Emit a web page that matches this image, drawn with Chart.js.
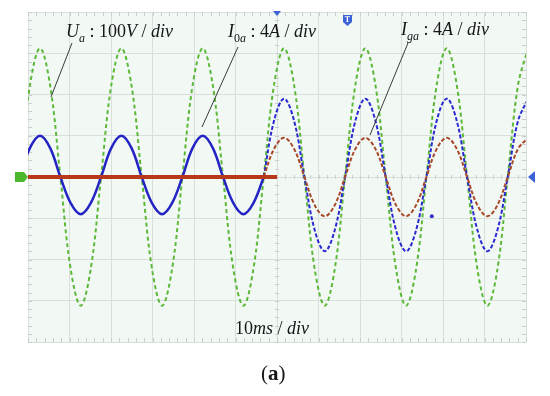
<!DOCTYPE html>
<html>
<head>
<meta charset="utf-8">
<script src="https://cdn.jsdelivr.net/npm/chart.js@4.4.0/dist/chart.umd.min.js"></script>
<style>
  html, body { margin: 0; padding: 0; background: #fff; }
  canvas { display: block; }
</style>
</head>
<body>
<canvas id="scope" width="550" height="396"></canvas>
<script>
// sample times (ms), 10ms/div, 12 div
const timeMs = [-2.0, 0.45, 2.9, 5.35, 7.8, 10.25, 12.7, 15.15, 17.6, 20.05, 22.5, 24.95, 27.4, 29.85, 32.3, 34.75,
  37.2, 39.65, 42.1, 44.55, 47.0, 49.45, 51.9, 54.35, 56.8, 59.25, 61.7, 64.15, 66.6, 69.05, 71.5, 73.95, 76.4,
  78.85, 81.3, 83.75, 86.2, 88.65, 91.1, 93.55, 96.0, 98.45, 100.9, 103.35, 105.8, 108.25, 110.7, 113.15, 115.6,
  118.05, 120.5];

// Ua, volts (100V/div)
const uaVolts = [0,
  221, 312, 221, 0, -221, -312, -221, 0,
  221, 312, 221, 0, -221, -312, -221, 0,
  221, 312, 221, 0, -221, -312, -221, 0,
  221, 312, 221, 0, -221, -312, -221, 0,
  221, 312, 221, 0, -221, -312, -221, 0,
  221, 312, 221, 0, -221, -312, -221, 0,
  221, 312];

// I0a, amps (4A/div) - before and after the step
const i0aBefore = [0,
  2.8, 4.0, 2.8, 0, -2.5, -3.6, -2.5, 0,
  2.8, 4.0, 2.8, 0, -2.5, -3.6, -2.5, 0,
  2.8, 4.0, 2.8, 0, -2.5, -3.6, -2.5, 0,
  null, null, null, null, null, null, null, null, null, null, null, null, null,
  null, null, null, null, null, null, null, null, null, null, null, null, null];
const i0aAfter = [null, null, null, null, null, null, null, null, null, null, null, null,
  null, null, null, null, null, null, null, null, null, null, null, null,
  0,
  5.4, 7.6, 5.4, 0, -5.1, -7.2, -5.1, 0,
  5.4, 7.6, 5.4, 0, -5.1, -7.2, -5.1, 0,
  5.4, 7.6, 5.4, 0, -5.1, -7.2, -5.1, 0,
  5.4, 7.6];

// Iga, amps (4A/div)
const igaFlatTime = [0, 60];
const igaFlatAmps = [0, 0];
const igaAfter = [null, null, null, null, null, null, null, null, null, null, null, null,
  null, null, null, null, null, null, null, null, null, null, null, null,
  0,
  2.7, 3.8, 2.7, 0, -2.7, -3.8, -2.7, 0,
  2.7, 3.8, 2.7, 0, -2.7, -3.8, -2.7, 0,
  2.7, 3.8, 2.7, 0, -2.7, -3.8, -2.7, 0,
  2.7, 3.8];

// stray dot on the blue channel
const strayTime = [97.3];
const strayAmps = [-3.8];

const toPoints = (times, values) => {
  let pts = [];
  times.forEach((t, i) => {
    if (values[i] !== null) pts.push({ x: t, y: values[i] });
  });
  return pts;
};

const SERIF = "'Liberation Serif', 'Times New Roman', serif";

// plot background + scope minor ticks
const scopeBack = {
  id: 'scopeBack',
  beforeDraw(chart) {
    const { ctx, chartArea: a } = chart;
    ctx.save();
    ctx.fillStyle = '#f2f9f5';
    ctx.fillRect(a.left, a.top, a.right - a.left, a.bottom - a.top);
    ctx.restore();
  },
  beforeDatasetsDraw(chart) {
    const { ctx, chartArea: a, scales } = chart;
    const x = scales.x, y = scales.y;
    const cx = x.getPixelForValue(60), cy = y.getPixelForValue(0);
    ctx.save();
    ctx.strokeStyle = '#c9d0cc';
    ctx.lineWidth = 1;
    ctx.beginPath();
    for (let t = 0; t <= 120; t += 2) {
      const px = Math.round(x.getPixelForValue(t)) + 0.5;
      ctx.moveTo(px, a.top); ctx.lineTo(px, a.top + 4);
      ctx.moveTo(px, a.bottom); ctx.lineTo(px, a.bottom - 4);
      ctx.moveTo(px, cy - 2); ctx.lineTo(px, cy + 2);
    }
    for (let v = -400; v <= 400; v += 20) {
      const py = Math.round(y.getPixelForValue(v)) + 0.5;
      ctx.moveTo(a.left, py); ctx.lineTo(a.left + 4, py);
      ctx.moveTo(a.right, py); ctx.lineTo(a.right - 4, py);
      ctx.moveTo(cx - 2, py); ctx.lineTo(cx + 2, py);
    }
    ctx.stroke();
    ctx.restore();
  }
};

// write a label made of pieces (italic, subscript ...)
const drawRuns = (ctx, x, y, runs) => {
  runs.forEach(([txt, font, dy]) => {
    ctx.font = font;
    ctx.fillText(txt, x, y + (dy || 0));
    x += ctx.measureText(txt).width;
  });
};

const scopeText = {
  id: 'scopeText',
  afterDraw(chart) {
    const ctx = chart.ctx;
    const it = 'italic 18px ' + SERIF, up = '18px ' + SERIF;
    const sIt = 'italic 12px ' + SERIF, sUp = '12px ' + SERIF;
    ctx.save();
    ctx.fillStyle = '#161616';
    ctx.textBaseline = 'alphabetic';
    ctx.textAlign = 'left';
    drawRuns(ctx, 66, 37, [['U', it], ['a', sIt, 5], [' : 100', up], ['V', it], [' / ', up], ['div', it]]);
    drawRuns(ctx, 228, 37, [['I', it], ['0', sUp, 5], ['a', sIt, 5], [' : 4', up], ['A', it], [' / ', up], ['div', it]]);
    drawRuns(ctx, 401, 35, [['I', it], ['ga', sIt, 5], [' : 4', up], ['A', it], [' / ', up], ['div', it]]);
    drawRuns(ctx, 235, 334, [['10', up], ['ms', it], [' / ', up], ['div', it]]);
    drawRuns(ctx, 261, 380, [['(', '21px ' + SERIF], ['a', 'bold 21px ' + SERIF], [')', '21px ' + SERIF]]);

    // leader lines
    ctx.strokeStyle = '#3a3a3a';
    ctx.lineWidth = 1;
    ctx.beginPath();
    ctx.moveTo(72, 43); ctx.lineTo(51, 97);
    ctx.moveTo(238, 47); ctx.lineTo(202, 127);
    ctx.moveTo(408, 43); ctx.lineTo(370, 135);
    ctx.stroke();

    // channel / trigger markers
    const cy = chart.scales.y.getPixelForValue(0);
    ctx.fillStyle = '#4cb82e';
    ctx.fillRect(15, cy - 5, 9, 10);
    ctx.beginPath();
    ctx.moveTo(24, cy - 5); ctx.lineTo(28, cy); ctx.lineTo(24, cy + 5);
    ctx.fill();

    ctx.fillStyle = '#3c62d6';
    const tx = chart.scales.x.getPixelForValue(60);
    ctx.beginPath();
    ctx.moveTo(tx - 4, 11); ctx.lineTo(tx + 4, 11); ctx.lineTo(tx, 16);
    ctx.fill();

    ctx.beginPath();
    ctx.moveTo(343, 15); ctx.lineTo(352, 15); ctx.lineTo(352, 22);
    ctx.lineTo(347.5, 26); ctx.lineTo(343, 22);
    ctx.fill();
    ctx.fillStyle = '#fff';
    ctx.font = 'bold 8px ' + SERIF;
    ctx.textAlign = 'center';
    ctx.fillText('T', 347.5, 22);

    ctx.fillStyle = '#3c62d6';
    ctx.beginPath();
    ctx.moveTo(535, cy - 6); ctx.lineTo(535, cy + 6); ctx.lineTo(528, cy);
    ctx.fill();
    ctx.restore();
  }
};

const ctx = document.getElementById('scope').getContext('2d');
const scopeChart = new Chart(ctx, {
  type: 'line',
  data: {
    datasets: [
      {
        label: 'Iga',
        data: toPoints(igaFlatTime, igaFlatAmps),
        yAxisID: 'yAmp',
        borderColor: '#b8381a',
        borderWidth: 4,
        pointRadius: 0,
        tension: 0
      },
      {
        label: 'Iga',
        data: toPoints(timeMs, igaAfter),
        yAxisID: 'yAmp',
        borderColor: '#a8482a',
        borderWidth: 2,
        borderDash: [4, 2],
        pointRadius: 0,
        tension: 0.37
      },
      {
        label: 'I0a',
        data: toPoints(timeMs, i0aBefore),
        yAxisID: 'yAmp',
        borderColor: '#2424c4',
        borderWidth: 2.5,
        pointRadius: 0,
        tension: 0.37
      },
      {
        label: 'I0a',
        data: toPoints(timeMs, i0aAfter),
        yAxisID: 'yAmp',
        borderColor: '#2a2ad0',
        borderWidth: 2,
        borderDash: [4, 2],
        pointRadius: 0,
        tension: 0.37
      },
      {
        label: 'Ua',
        data: toPoints(timeMs, uaVolts),
        yAxisID: 'y',
        borderColor: '#5cb838',
        borderWidth: 2,
        borderDash: [4, 3],
        pointRadius: 0,
        tension: 0.37
      },
      {
        label: 'dot',
        data: toPoints(strayTime, strayAmps),
        yAxisID: 'yAmp',
        showLine: false,
        pointRadius: 2,
        pointBackgroundColor: '#3030c8',
        pointBorderWidth: 0
      }
    ]
  },
  options: {
    responsive: false,
    animation: false,
    devicePixelRatio: 1,
    layout: { padding: { left: 28, top: 12, right: 24, bottom: 54 } },
    plugins: {
      legend: { display: false },
      tooltip: { enabled: false }
    },
    scales: {
      x: {
        type: 'linear',
        min: 0,
        max: 120,
        ticks: { display: false, stepSize: 10 },
        grid: { color: '#d9dfdb', drawTicks: false },
        border: { display: false }
      },
      y: {
        min: -400,
        max: 400,
        ticks: { display: false, stepSize: 100 },
        grid: { color: '#d9dfdb', drawTicks: false },
        border: { display: false }
      },
      yAmp: {
        display: false,
        min: -16,
        max: 16
      }
    }
  },
  plugins: [scopeBack, scopeText]
});
</script>
</body>
</html>
